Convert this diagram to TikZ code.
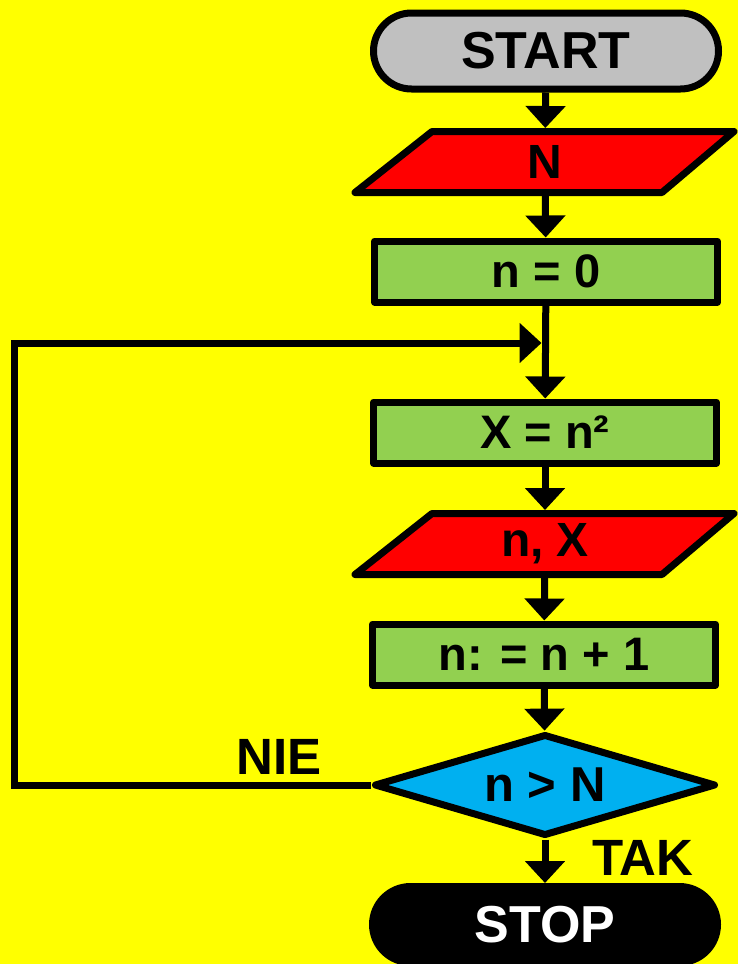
\documentclass[tikz,border=0pt]{standalone}
\usepackage{fontspec}
\setmainfont{Liberation Sans}
\usetikzlibrary{shapes.geometric,arrows.meta,calc,backgrounds}

\definecolor{bgyellow}{HTML}{FFFF00}
\definecolor{termgray}{HTML}{C0C0C0}
\definecolor{iored}{HTML}{FF0000}
\definecolor{procgreen}{HTML}{92D050}
\definecolor{decblue}{HTML}{00B0F0}

% slanted input/output box drawn round a text node
\newcommand{\iopoly}[1]{%
  \filldraw[ioline] ($(#1.center)+(-113,-30.5)$) -- ($(#1.center)+(189,-30.5)$)
    -- ($(#1.center)+(117,30.5)$) -- ($(#1.center)+(-190,30.5)$) -- cycle;}

\begin{document}
\begin{tikzpicture}[x=1pt,y=-1pt,
  flow/.style={line width=7pt, line join=round},
  terminal/.style={flow, draw=black, rectangle, rounded corners=38pt,
    minimum width=345pt, minimum height=76pt, inner sep=0pt,
    font=\fontsize{52}{60}\selectfont\bfseries},
  process/.style={flow, draw=black, fill=procgreen, rectangle,
    minimum width=343pt, minimum height=61pt, inner sep=0pt,
    font=\fontsize{47}{56}\selectfont\bfseries},
  iotext/.style={rectangle, minimum width=300pt, minimum height=61pt,
    inner sep=0pt, outer sep=3.5pt, font=\fontsize{48}{56}\selectfont\bfseries},
  ioline/.style={flow, draw=black, fill=iored},
  decision/.style={flow, draw=black, fill=decblue, diamond, aspect=3.35,
    minimum width=342pt, minimum height=102pt, inner sep=0pt,
    font=\fontsize{49}{56}\selectfont\bfseries},
  arrow/.style={line width=7pt, -{Triangle[width=39pt,length=22pt]}},
  lbl/.style={font=\fontsize{51}{60}\selectfont\bfseries}
]
\useasboundingbox (0,0) rectangle (738,964);
\clip (0,0) rectangle (738,964);

% nodes
\node[terminal, fill=termgray] (start) at (546,51) {START};
\node[iotext] (in1) at (545,162) {N};
\node[process] (init) at (546,271.5) {n = 0};
\node[process] (sq) at (545,432.5) {X = n²};
\node[iotext] (out) at (545,544) {n, X};
\node[process] (inc) at (544,654.5) {n: = n + 1};
\node[decision] (dec) at (545,785) {n > N};
\node[terminal, fill=black, text=white] (stop) at (545,924.5) {STOP};

% background and slanted boxes
\begin{scope}[on background layer]
  \fill[bgyellow] (0,0) rectangle (738,964);
  \iopoly{in1}
  \iopoly{out}
\end{scope}

% connectors
\coordinate (loopcorner) at (14,343);
\coordinate (merge) at (541.5,343);
\draw[arrow] (start) -- (in1);
\draw[arrow] (in1) -- (init);
\draw[arrow] (init) -- (sq);
\draw[arrow] (sq) -- (out);
\draw[arrow] (out) -- (inc);
\draw[arrow] (inc) -- (dec);
\draw[arrow] (dec) -- (stop);
\draw[arrow, line join=miter] (dec.west) -| (loopcorner) -- (merge);

% branch labels
\node[lbl] (nie) at (279,757) {NIE};
\node[lbl] (tak) at (643,858) {TAK};
\end{tikzpicture}
\end{document}
